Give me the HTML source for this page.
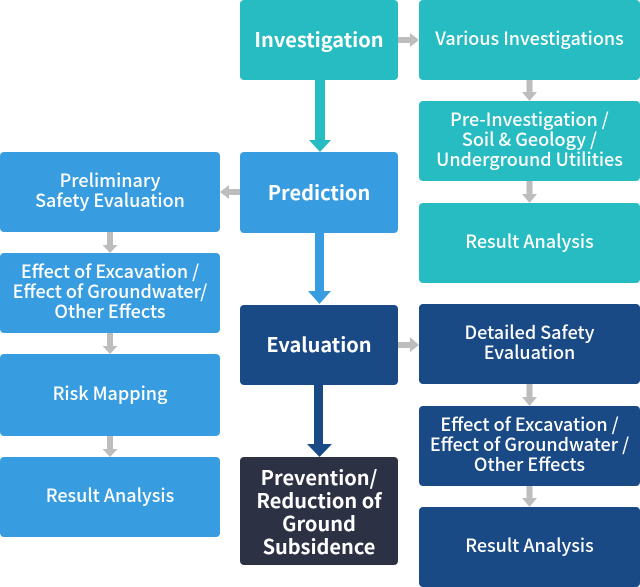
<!DOCTYPE html>
<html><head><meta charset="utf-8"><style>
html,body{margin:0;padding:0;background:#fff;}
body{width:640px;height:587px;position:relative;overflow:hidden;font-family:"Noto Sans CJK JP","Liberation Sans",sans-serif;}
.b{position:absolute;display:flex;align-items:center;justify-content:center;text-align:center;color:#fff;border-radius:4px;box-sizing:border-box;}
.m{font-size:20px;font-weight:700;line-height:23px;padding-bottom:3px;}
.s{font-size:18px;font-weight:500;line-height:20px;padding-bottom:4px;}
.t{background:#26BCC1;}
.bl{background:#389DE0;}
.n{background:#1A4A86;}
.d{background:#2C3144;}
svg{position:absolute;left:0;top:0;}
</style></head><body>
<div class="b t m" style="left:240px;top:0;width:158px;height:80px;">Investigation</div>
<div class="b bl m" style="left:240px;top:152px;width:158px;height:81px;">Prediction</div>
<div class="b n m" style="left:240px;top:305px;width:158px;height:80px;">Evaluation</div>
<div class="b d m" style="left:240px;top:457px;width:158px;height:108px;padding-bottom:1px;">Prevention/<br>Reduction of<br>Ground<br>Subsidence</div>

<div class="b t s" style="left:419px;top:0;width:221px;height:80px;padding-bottom:5px;">Various Investigations</div>
<div class="b t s" style="left:419px;top:101px;width:221px;height:80px;">Pre-Investigation /<br>Soil &amp; Geology /<br>Underground Utilities</div>
<div class="b t s" style="left:419px;top:203px;width:221px;height:80px;">Result Analysis</div>
<div class="b n s" style="left:419px;top:304px;width:221px;height:80px;">Detailed Safety<br>Evaluation</div>
<div class="b n s" style="left:419px;top:406px;width:221px;height:80px;">Effect of Excavation /<br>Effect of Groundwater /<br>Other Effects</div>
<div class="b n s" style="left:419px;top:507px;width:221px;height:80px;">Result Analysis</div>

<div class="b bl s" style="left:0;top:152px;width:220px;height:80px;">Preliminary<br>Safety Evaluation</div>
<div class="b bl s" style="left:0;top:253px;width:220px;height:80px;">Effect of Excavation /<br>Effect of Groundwater/<br>Other Effects</div>
<div class="b bl s" style="left:0;top:354px;width:220px;height:82px;">Risk Mapping</div>
<div class="b bl s" style="left:0;top:457px;width:220px;height:80px;">Result Analysis</div>

<svg width="640" height="587" viewBox="0 0 640 587">
<g fill="#BDBDBD">
<polygon points="398,37 410,37 410,33 419,40 410,47 410,43 398,43"/>
<polygon points="398,342 410,342 410,337 419,345 410,352 410,348 398,348"/>
<polygon points="240,189 229,189 229,185 220,192 229,199 229,195 240,195"/>
<polygon points="526.5,80 532.5,80 532.5,92 537,92 529.5,101 522,92 526.5,92"/>
<polygon points="526.5,181 532.5,181 532.5,194 537,194 529.5,203 522,194 526.5,194"/>
<polygon points="526.5,384 532.5,384 532.5,397 537,397 529.5,406 522,397 526.5,397"/>
<polygon points="526.5,486 532.5,486 532.5,498 537,498 529.5,507 522,498 526.5,498"/>
<polygon points="107,232 113,232 113,245 117.5,245 110,253 102.5,245 107,245"/>
<polygon points="107,333 113,333 113,346 117.5,346 110,354 102.5,346 107,346"/>
<polygon points="107,436 113,436 113,449 117.5,449 110,457 102.5,449 107,449"/>
</g>
<polygon fill="#26BCC1" points="315,80 325,80 325,140 331,140 320,152 309,140 315,140"/>
<polygon fill="#389DE0" points="315,233 324,233 324,291 331,291 319.5,304 308,291 315,291"/>
<polygon fill="#1A4A86" points="314,385 323,385 323,444 332,444 319.5,457 307,444 314,444"/>
</svg>
</body></html>
